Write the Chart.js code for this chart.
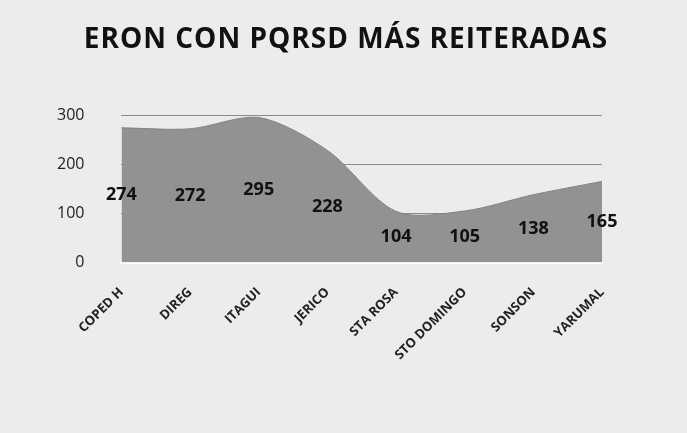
<!DOCTYPE html>
<html>
<head>
<meta charset="utf-8">
<script src="https://cdn.jsdelivr.net/npm/chart.js@4/dist/chart.umd.min.js"></script>
<style>
  body { margin: 0; background: #ececec; }
  #wrap { width: 687px; height: 433px; }
</style>
</head>
<body>
<div id="wrap"><canvas id="chart" width="687" height="433"></canvas></div>
<script>
// ERON data
const categories = ["COPED H", "DIREG", "ITAGUI", "JERICO", "STA ROSA", "STO DOMINGO", "SONSON", "YARUMAL"];
const pqrsd = [274, 272, 295, 228, 104, 105, 138, 165];
const yTicks = [0, 100, 200, 300];
const chartTitle = "ERON CON PQRSD MÁS REITERADAS";

const ctx = document.getElementById("chart").getContext("2d");

// write the value in the middle of the filled area
const valueLabels = {
    id: "valueLabels",
    afterDatasetsDraw(chart) {
        const c = chart.ctx;
        const meta = chart.getDatasetMeta(0);
        const y = chart.scales.y;
        c.save();
        c.font = "bold 18px 'Open Sans'";
        c.fillStyle = "#111";
        c.textAlign = "center";
        c.textBaseline = "middle";
        meta.data.forEach(function(pt, i) {
            c.fillText(String(pqrsd[i]), pt.x, y.getPixelForValue(pqrsd[i] / 2));
        });
        c.restore();
    }
};

// title drawn by hand so it can sit a bit right of the canvas middle
const titleText = {
    id: "titleText",
    afterDraw(chart) {
        const c = chart.ctx;
        c.save();
        c.font = "bold 28px 'Open Sans'";
        c.letterSpacing = "1px";
        c.fillStyle = "#111";
        c.textAlign = "center";
        c.textBaseline = "middle";
        c.fillText(chartTitle, 346, 40);
        c.restore();
    }
};

const chart = new Chart(ctx, {
    type: "line",
    data: {
        labels: categories,
        datasets: [{
            data: pqrsd,
            fill: "origin",
            backgroundColor: "#929292",
            borderColor: "#828282",
            borderWidth: 1,
            pointRadius: 0,
            tension: 0.3
        }]
    },
    options: {
        responsive: false,
        animation: false,
        layout: { padding: { left: 20, right: 85, top: 115, bottom: 56 } },
        plugins: {
            legend: { display: false },
            tooltip: { enabled: false },
            title: { display: false }
        },
        scales: {
            x: {
                offset: false,
                grid: { display: false },
                border: { display: true, color: "#ffffff", width: 3 },
                ticks: {
                    color: "#222",
                    font: { family: "'Open Sans'", size: 13, weight: "bold" },
                    minRotation: 45,
                    maxRotation: 45,
                    padding: 14
                }
            },
            y: {
                min: 0,
                max: 300,
                afterBuildTicks: function(axis) {
                    axis.ticks = yTicks.map(v => ({ value: v }));
                },
                grid: { color: "#8a8a8a", lineWidth: 1, drawTicks: false },
                border: { display: false },
                ticks: {
                    color: "#222",
                    font: { family: "'Open Sans'", size: 16 },
                    padding: 37
                }
            }
        }
    },
    plugins: [valueLabels, titleText]
});
</script>
</body>
</html>
